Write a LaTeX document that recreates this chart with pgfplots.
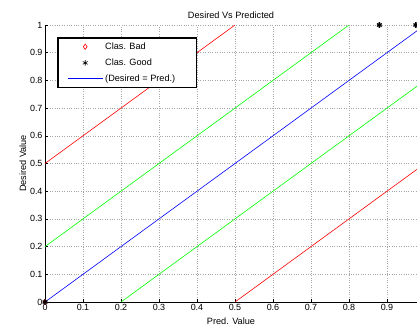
\documentclass[border=0pt]{standalone}
\usepackage{pgfplots}
\pgfplotsset{compat=1.18}
\usepackage{fontspec}
\setmainfont{Liberation Sans}
\begin{document}
\begin{tikzpicture}[x=1bp,y=1bp]
\path[use as bounding box] (-45bp,-24bp) rectangle (372bp,302bp);
\begin{axis}[
  at={(0,0)}, anchor=south west,
  scale only axis, width=372bp, height=277bp,
  xmin=0, xmax=0.979, ymin=0, ymax=1,
  axis lines*=left,
  axis line style={line width=0.8pt, -},
  tick align=inside,
  xtick={0,0.1,...,0.9}, ytick={0,0.1,...,1},
  xticklabels={0,0.1,0.2,0.3,0.4,0.5,0.6,0.7,0.8,0.9},
  yticklabels={0,0.1,0.2,0.3,0.4,0.5,0.6,0.7,0.8,0.9,1},
  major tick length=3bp,
  tick style={black, line width=0.5pt},
  grid=major,
  grid style={gray!70, dotted, line width=0.5pt},
  ticklabel style={font=\fontsize{9}{10}\selectfont},
  /pgf/number format/assume math mode=true,
  xticklabel style={yshift=1bp},
  yticklabel style={xshift=1bp},
  title={Desired Vs Predicted},
  title style={font=\fontsize{9.2}{10}\selectfont, yshift=-3bp},
  xlabel={Pred. Value},
  ylabel={Desired Value},
  label style={font=\fontsize{9.2}{10}\selectfont},
  xlabel style={yshift=0bp},
  ylabel style={yshift=-3bp},
  legend style={at={(rel axis cs:0.035,0.953)}, anchor=north west,
    draw=none, name=leg, font=\fontsize{9.2}{10}\selectfont,
    inner xsep=9bp, inner ysep=2.5bp, row sep=4bp, cells={anchor=west}},
  legend cell align=left,
  legend image code/.code={\draw[mark repeat=2,mark phase=2,#1] plot coordinates {(0bp,0bp)(17.5bp,0bp)(35bp,0bp)};},
  legend image post style={line width=0.6pt},
]
\addplot[only marks, mark=diamond, mark size=2.6pt, color=red, line width=0.6pt] coordinates {(0,0)};
\addlegendentry{Clas. Bad}
\addplot[only marks, mark=asterisk, mark size=2.8pt, color=black, line width=1.3pt] coordinates {(0,0) (0.88,1) (0.976,1)};
\addlegendentry{Clas. Good}
\addplot[color=blue, line width=0.6pt,
  legend image code/.code={\draw[draw=blue, line width=1pt] (0bp,0.5bp) -- (35bp,0.5bp);}] coordinates {(0,0) (1,1)};
\addlegendentry{(Desired = Pred.)\hspace*{10bp}}
\addplot[color=red, line width=0.6pt, forget plot] coordinates {(0,0.5) (0.5,1)};
\addplot[color=red, line width=0.6pt, forget plot] coordinates {(0.5,0) (1,0.5)};
\addplot[color=green, line width=0.6pt, forget plot] coordinates {(0,0.2) (0.8,1)};
\addplot[color=green, line width=0.6pt, forget plot] coordinates {(0.2,0) (1,0.8)};
\end{axis}
\draw[line width=1.2pt] (leg.south west) rectangle (leg.north east);
\end{tikzpicture}
\end{document}
